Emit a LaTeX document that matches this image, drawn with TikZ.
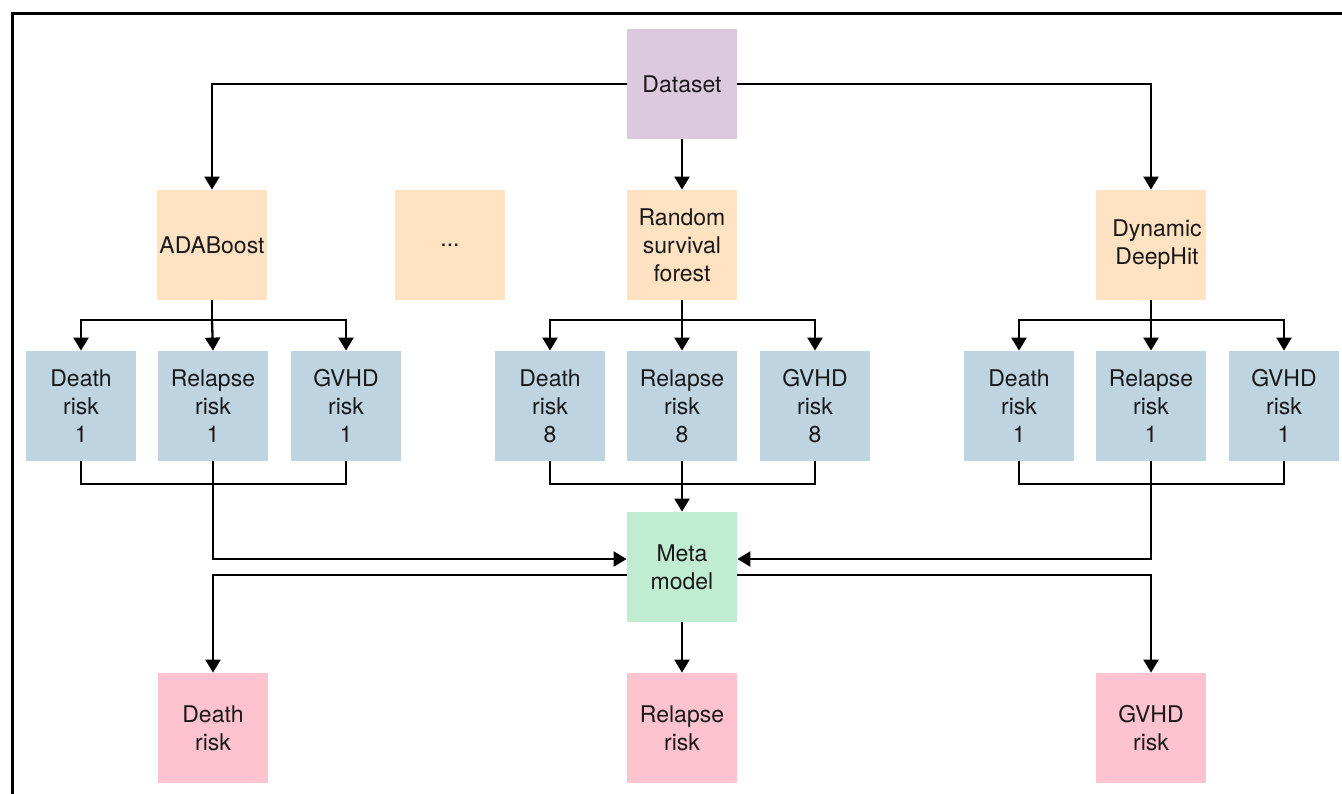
\documentclass[tikz,border=0pt]{standalone}
\usepackage{fontspec}
\setmainfont{TeX Gyre Heros}
\usetikzlibrary{arrows.meta}
\definecolor{cdata}{RGB}{220,201,222}
\definecolor{cmod}{RGB}{255,226,194}
\definecolor{crisk}{RGB}{190,212,224}
\definecolor{cmeta}{RGB}{192,236,210}
\definecolor{cout}{RGB}{255,194,207}
\begin{document}
\begin{tikzpicture}[x=0.5pt,y=-0.5pt,
 box/.style={minimum width=55pt,minimum height=55pt,inner sep=0pt,align=center,font=\fontsize{11.5}{14}\selectfont,text=black!90},
 conn/.style={line width=1.15pt,-{Triangle[length=6.5pt,width=7.5pt]}},
 ln/.style={line width=1.15pt}]
\useasboundingbox (0,0) rectangle (1342,793);
\begin{scope}
\clip (0,0) rectangle (1342,793);
\draw[line width=1.5pt] (12,810) -- (12,13) -- (1360,13);
\end{scope}
% nodes
\node[box,fill=cdata] (data) at (682,84) {Dataset};
\node[box,fill=cmod] (ada) at (212,245) {ADABoost};
\node[box,fill=cmod] (dots) at (450,245) {...};
\node[box,fill=cmod] (rsf) at (682,245) {Random\\survival\\forest};
\node[box,fill=cmod] (ddh) at (1151,245) {\hspace*{6pt}Dynamic\\\hspace*{6pt}DeepHit};
\node[box,fill=crisk] (dA) at (81,406) {Death\\risk\\1};
\node[box,fill=crisk] (rA) at (213,406) {Relapse\\risk\\1};
\node[box,fill=crisk] (gA) at (346,406) {GVHD\\risk\\1};
\node[box,fill=crisk] (dB) at (550,406) {Death\\risk\\8};
\node[box,fill=crisk] (rB) at (682,406) {Relapse\\risk\\8};
\node[box,fill=crisk] (gB) at (815,406) {GVHD\\risk\\8};
\node[box,fill=crisk] (dC) at (1019,406) {Death\\risk\\1};
\node[box,fill=crisk] (rC) at (1151,406) {Relapse\\risk\\1};
\node[box,fill=crisk] (gC) at (1284,406) {GVHD\\risk\\1};
\node[box,fill=cmeta] (meta) at (682,567) {Meta\\model};
\node[box,fill=cout] (oD) at (213,728) {Death\\risk};
\node[box,fill=cout] (oR) at (682,728) {Relapse\\risk};
\node[box,fill=cout] (oG) at (1151,728) {GVHD\\risk};
% junction coordinates
\coordinate (jA) at (212,320);
\coordinate (jB) at (682,320);
\coordinate (jC) at (1151,320);
\coordinate (mA) at (212,484);
\coordinate (mB) at (682,484);
\coordinate (mC) at (1151,484);
% connectors
\draw[conn] (data.west) -| (ada.north);
\draw[conn] (data.east) -| (ddh.north);
\draw[conn] (data.south) -- (rsf.north);
\draw[ln] (ada.south) -- (jA);
\draw[conn] (jA) -| (dA.north);
\draw[conn] (jA) -- (rA.north);
\draw[conn] (jA) -| (gA.north);
\draw[ln] (rsf.south) -- (jB);
\draw[conn] (jB) -| (dB.north);
\draw[conn] (jB) -- (rB.north);
\draw[conn] (jB) -| (gB.north);
\draw[ln] (ddh.south) -- (jC);
\draw[conn] (jC) -| (dC.north);
\draw[conn] (jC) -- (rC.north);
\draw[conn] (jC) -| (gC.north);
\draw[ln] (dA.south) |- (mA) -| (gA.south);
\draw[ln] (dB.south) |- (mB) -| (gB.south);
\draw[ln] (dC.south) |- (mC) -| (gC.south);
\draw[conn] (rA.south) |- ([yshift=4pt]meta.west);
\draw[conn] (rB.south) -- (meta.north);
\draw[conn] (rC.south) |- ([yshift=4pt]meta.east);
\draw[conn] ([yshift=-4pt]meta.west) -| (oD.north);
\draw[conn] (meta.south) -- (oR.north);
\draw[conn] ([yshift=-4pt]meta.east) -| (oG.north);
\end{tikzpicture}
\end{document}
